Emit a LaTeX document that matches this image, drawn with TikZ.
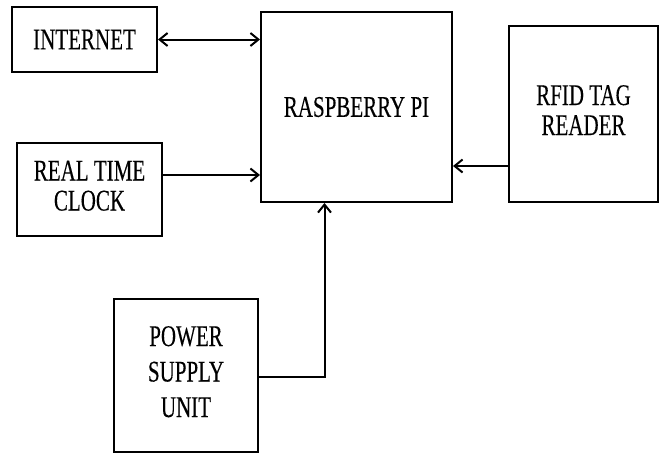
\documentclass[tikz,border=0pt]{standalone}
\usepackage{fontspec}
\setmainfont[FakeStretch=0.70,FakeBold=0.25]{Liberation Serif}
\usetikzlibrary{arrows.meta,calc}
\begin{document}
\begin{tikzpicture}[x=1pt,y=-1pt,
  blk/.style={draw=black,line width=2pt,rectangle,inner sep=0pt,align=center,
    font=\fontsize{30}{30}\selectfont},
  conn/.style={line width=2pt,-{Straight Barb[length=8pt,width=13pt,line width=2pt]}},
  biconn/.style={line width=2pt,{Straight Barb[length=8pt,width=13pt,line width=2pt]}-{Straight Barb[length=8pt,width=13pt,line width=2pt]}}]
\useasboundingbox (0,0) rectangle (665,453);
\node[blk,minimum width=145pt,minimum height=65pt] (internet) at (84.5,39.5) {INTERNET};
\node[blk,minimum width=191pt,minimum height=190pt] (rpi) at (356.5,107) {\raisebox{-5pt}{RASPBERRY PI}};
\node[blk,minimum width=149pt,minimum height=176pt] (rfid) at (583.5,114) {\raisebox{-16pt}{\begin{tabular}{@{}c@{}}RFID TAG\\READER\end{tabular}}};
\node[blk,minimum width=145pt,minimum height=93pt] (rtc) at (89.5,189.5) {\begin{tabular}{@{}c@{}}REAL TIME\\CLOCK\end{tabular}};
\node[blk,minimum width=144pt,minimum height=153pt] (psu) at (186,375.5) {\begin{tabular}{@{}c@{}}POWER\\[5.5pt]SUPPLY\\[5.5pt]UNIT\end{tabular}};
\coordinate (rtcout) at ($(rtc.east)+(0,-14.5)$);
\coordinate (rfidout) at ($(rfid.west)+(0,52)$);
\coordinate (psuin) at ($(rpi.south)+(-32,0)$);
\draw[biconn] (internet.east) -- (internet.east -| rpi.west);
\draw[conn] (rtcout) -- (rtcout -| rpi.west);
\draw[conn] (rfidout) -- (rfidout -| rpi.east);
\draw[conn] ($(psu.east)+(0,1.5)$) -| (psuin);
\end{tikzpicture}
\end{document}
